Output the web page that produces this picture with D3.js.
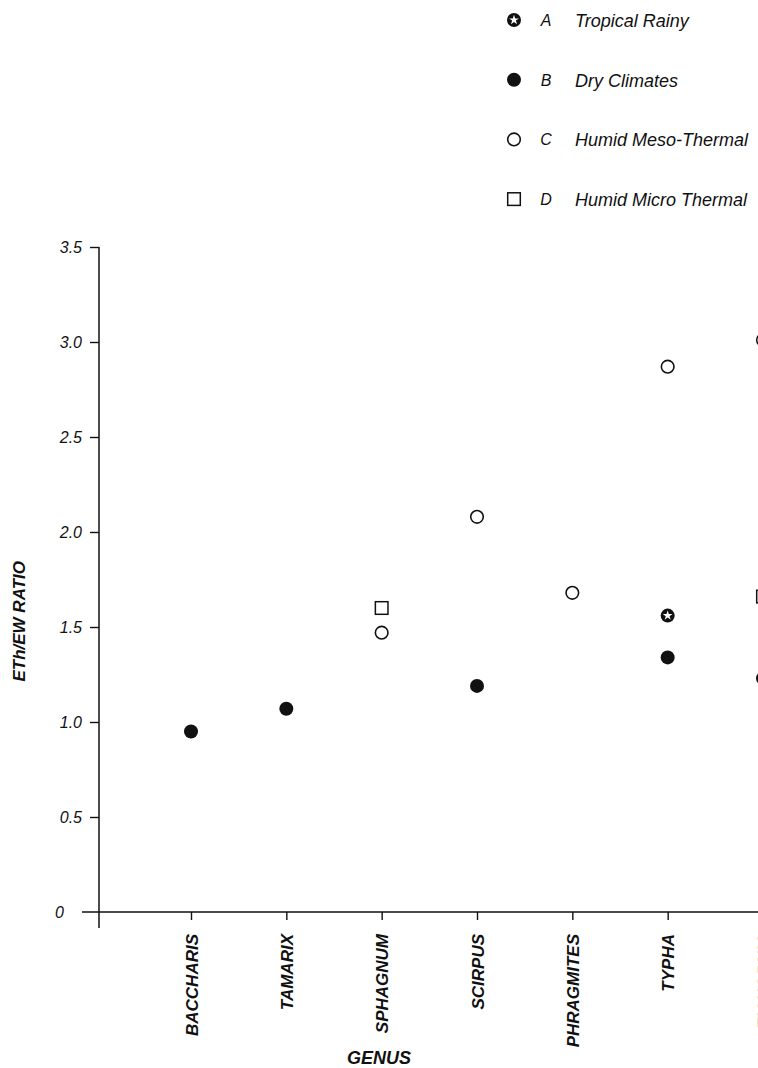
<!DOCTYPE html>
<html>
<head>
<meta charset="utf-8">
<script src="https://cdn.jsdelivr.net/npm/d3@7"></script>
<style>
  html, body { margin: 0; padding: 0; background: #fff; overflow: hidden; }
  svg text { font-family: "Liberation Sans", Arial, sans-serif; fill: #111; }
</style>
</head>
<body>
<div id="chart-container"></div>
<script>
// Genus categories along the x axis
const categories = ['BACCHARIS', 'TAMARIX', 'SPHAGNUM', 'SCIRPUS', 'PHRAGMITES', 'TYPHA', 'EICHORNIA'];

// ETh/EW ratio per climate group (null = no observation)
const tropicalRainy = [null, null, null, null, null, 1.56, 1.23];
const dryClimates   = [0.95, 1.07, null, 1.19, null, 1.34, null];
const humidMeso     = [null, null, 1.47, 2.08, 1.68, 2.87, 3.01];
const humidMicro    = [null, null, 1.60, null, null, null, 1.66];

const yTicks = [0, 0.5, 1.0, 1.5, 2.0, 2.5, 3.0, 3.5];

const legendCodes  = ['A', 'B', 'C', 'D'];
const legendLabels = ['Tropical Rainy', 'Dry Climates', 'Humid Meso-Thermal', 'Humid Micro Thermal'];

const width = 758;
const height = 1068;
const margin = { top: 247, left: 99 };
const chartHeight = 665;

const svg = d3.select('#chart-container').append('svg')
    .attr('width', width)
    .attr('height', height);

const g = svg.append('g')
    .attr('transform', `translate(${margin.left},${margin.top})`);

const x = d3.scalePoint()
    .domain(categories)
    .range([92, 664]);

const y = d3.scaleLinear()
    .domain([0, 3.5])
    .range([chartHeight, 0]);

// marker drawers, one per climate group
const markers = {
    A: (sel) => {
        sel.append('circle').attr('r', 7).attr('fill', '#111');
        sel.append('path')
            .attr('d', d3.symbol().type(d3.symbolStar).size(30)())
            .attr('fill', '#fff');
    },
    B: (sel) => {
        sel.append('circle').attr('r', 7).attr('fill', '#111');
    },
    C: (sel) => {
        sel.append('circle').attr('r', 6.3)
            .attr('fill', '#fff').attr('stroke', '#111').attr('stroke-width', 1.6);
    },
    D: (sel) => {
        sel.append('rect')
            .attr('x', -6.3).attr('y', -6.3).attr('width', 12.6).attr('height', 12.6)
            .attr('fill', '#fff').attr('stroke', '#111').attr('stroke-width', 1.5);
    }
};

// axes
const yAxis = g.append('g')
    .call(d3.axisLeft(y)
        .tickValues(yTicks)
        .tickSize(9)
        .tickPadding(8)
        .tickFormat(d => d === 0 ? '0' : d3.format('.1f')(d)));
yAxis.select('.domain').remove();
yAxis.selectAll('.tick line').attr('stroke', '#111').attr('stroke-width', 1.4);
yAxis.selectAll('.tick text')
    .style('font-size', '16px')
    .style('font-style', 'italic')
    .attr('fill', '#111');
yAxis.selectAll('.tick').filter(d => d === 0).select('line').remove();
yAxis.selectAll('.tick').filter(d => d === 0).select('text').attr('x', -35);

g.append('line')
    .attr('x1', 0).attr('x2', 0)
    .attr('y1', y(3.5)).attr('y2', chartHeight + 16)
    .attr('stroke', '#111').attr('stroke-width', 1.5);

const xAxis = g.append('g')
    .attr('transform', `translate(0,${chartHeight})`)
    .call(d3.axisBottom(x).tickSize(8));
xAxis.select('.domain').remove();
xAxis.selectAll('.tick line').attr('stroke', '#111').attr('stroke-width', 1.4);
xAxis.selectAll('.tick text')
    .attr('transform', 'rotate(-90)')
    .attr('x', -22)
    .attr('y', 0)
    .attr('dy', '0.36em')
    .attr('text-anchor', 'end')
    .attr('fill', '#111')
    .style('font-size', '17px')
    .style('font-weight', 'bold')
    .style('font-style', 'italic');

g.append('line')
    .attr('x1', -17).attr('x2', width)
    .attr('y1', chartHeight).attr('y2', chartHeight)
    .attr('stroke', '#111').attr('stroke-width', 1.5);

// axis titles
g.append('text')
    .attr('transform', `translate(-80,${y(1.53)}) rotate(-90)`)
    .attr('text-anchor', 'middle')
    .attr('dy', '0.35em')
    .style('font-size', '17px')
    .style('font-weight', 'bold')
    .style('font-style', 'italic')
    .text('ETh/EW RATIO');

svg.append('text')
    .attr('x', 379)
    .attr('y', 1064)
    .attr('text-anchor', 'middle')
    .style('font-size', '18px')
    .style('font-weight', 'bold')
    .style('font-style', 'italic')
    .text('GENUS');

// points
const series = [
    { code: 'B', values: dryClimates },
    { code: 'C', values: humidMeso },
    { code: 'D', values: humidMicro },
    { code: 'A', values: tropicalRainy }
];

series.forEach(s => {
    const pts = categories
        .map((c, i) => ({ cat: c, value: s.values[i] }))
        .filter(d => d.value != null);
    g.selectAll(`.pt-${s.code}`)
        .data(pts)
        .enter()
        .append('g')
        .attr('class', `pt-${s.code}`)
        .attr('transform', d => `translate(${x(d.cat)},${y(d.value)})`)
        .call(markers[s.code]);
});

// legend
const legend = svg.append('g').attr('transform', 'translate(514,20)');
legendCodes.forEach((code, i) => {
    const row = legend.append('g').attr('transform', `translate(0,${i * 59.7})`);
    row.append('g').call(markers[code]);
    row.append('text')
        .attr('x', 32)
        .attr('y', 6)
        .attr('text-anchor', 'middle')
        .style('font-size', '16px')
        .style('font-style', 'italic')
        .text(code);
    row.append('text')
        .attr('x', 61)
        .attr('y', 7)
        .style('font-size', '18px')
        .style('font-style', 'italic')
        .text(legendLabels[i]);
});
</script>
</body>
</html>
